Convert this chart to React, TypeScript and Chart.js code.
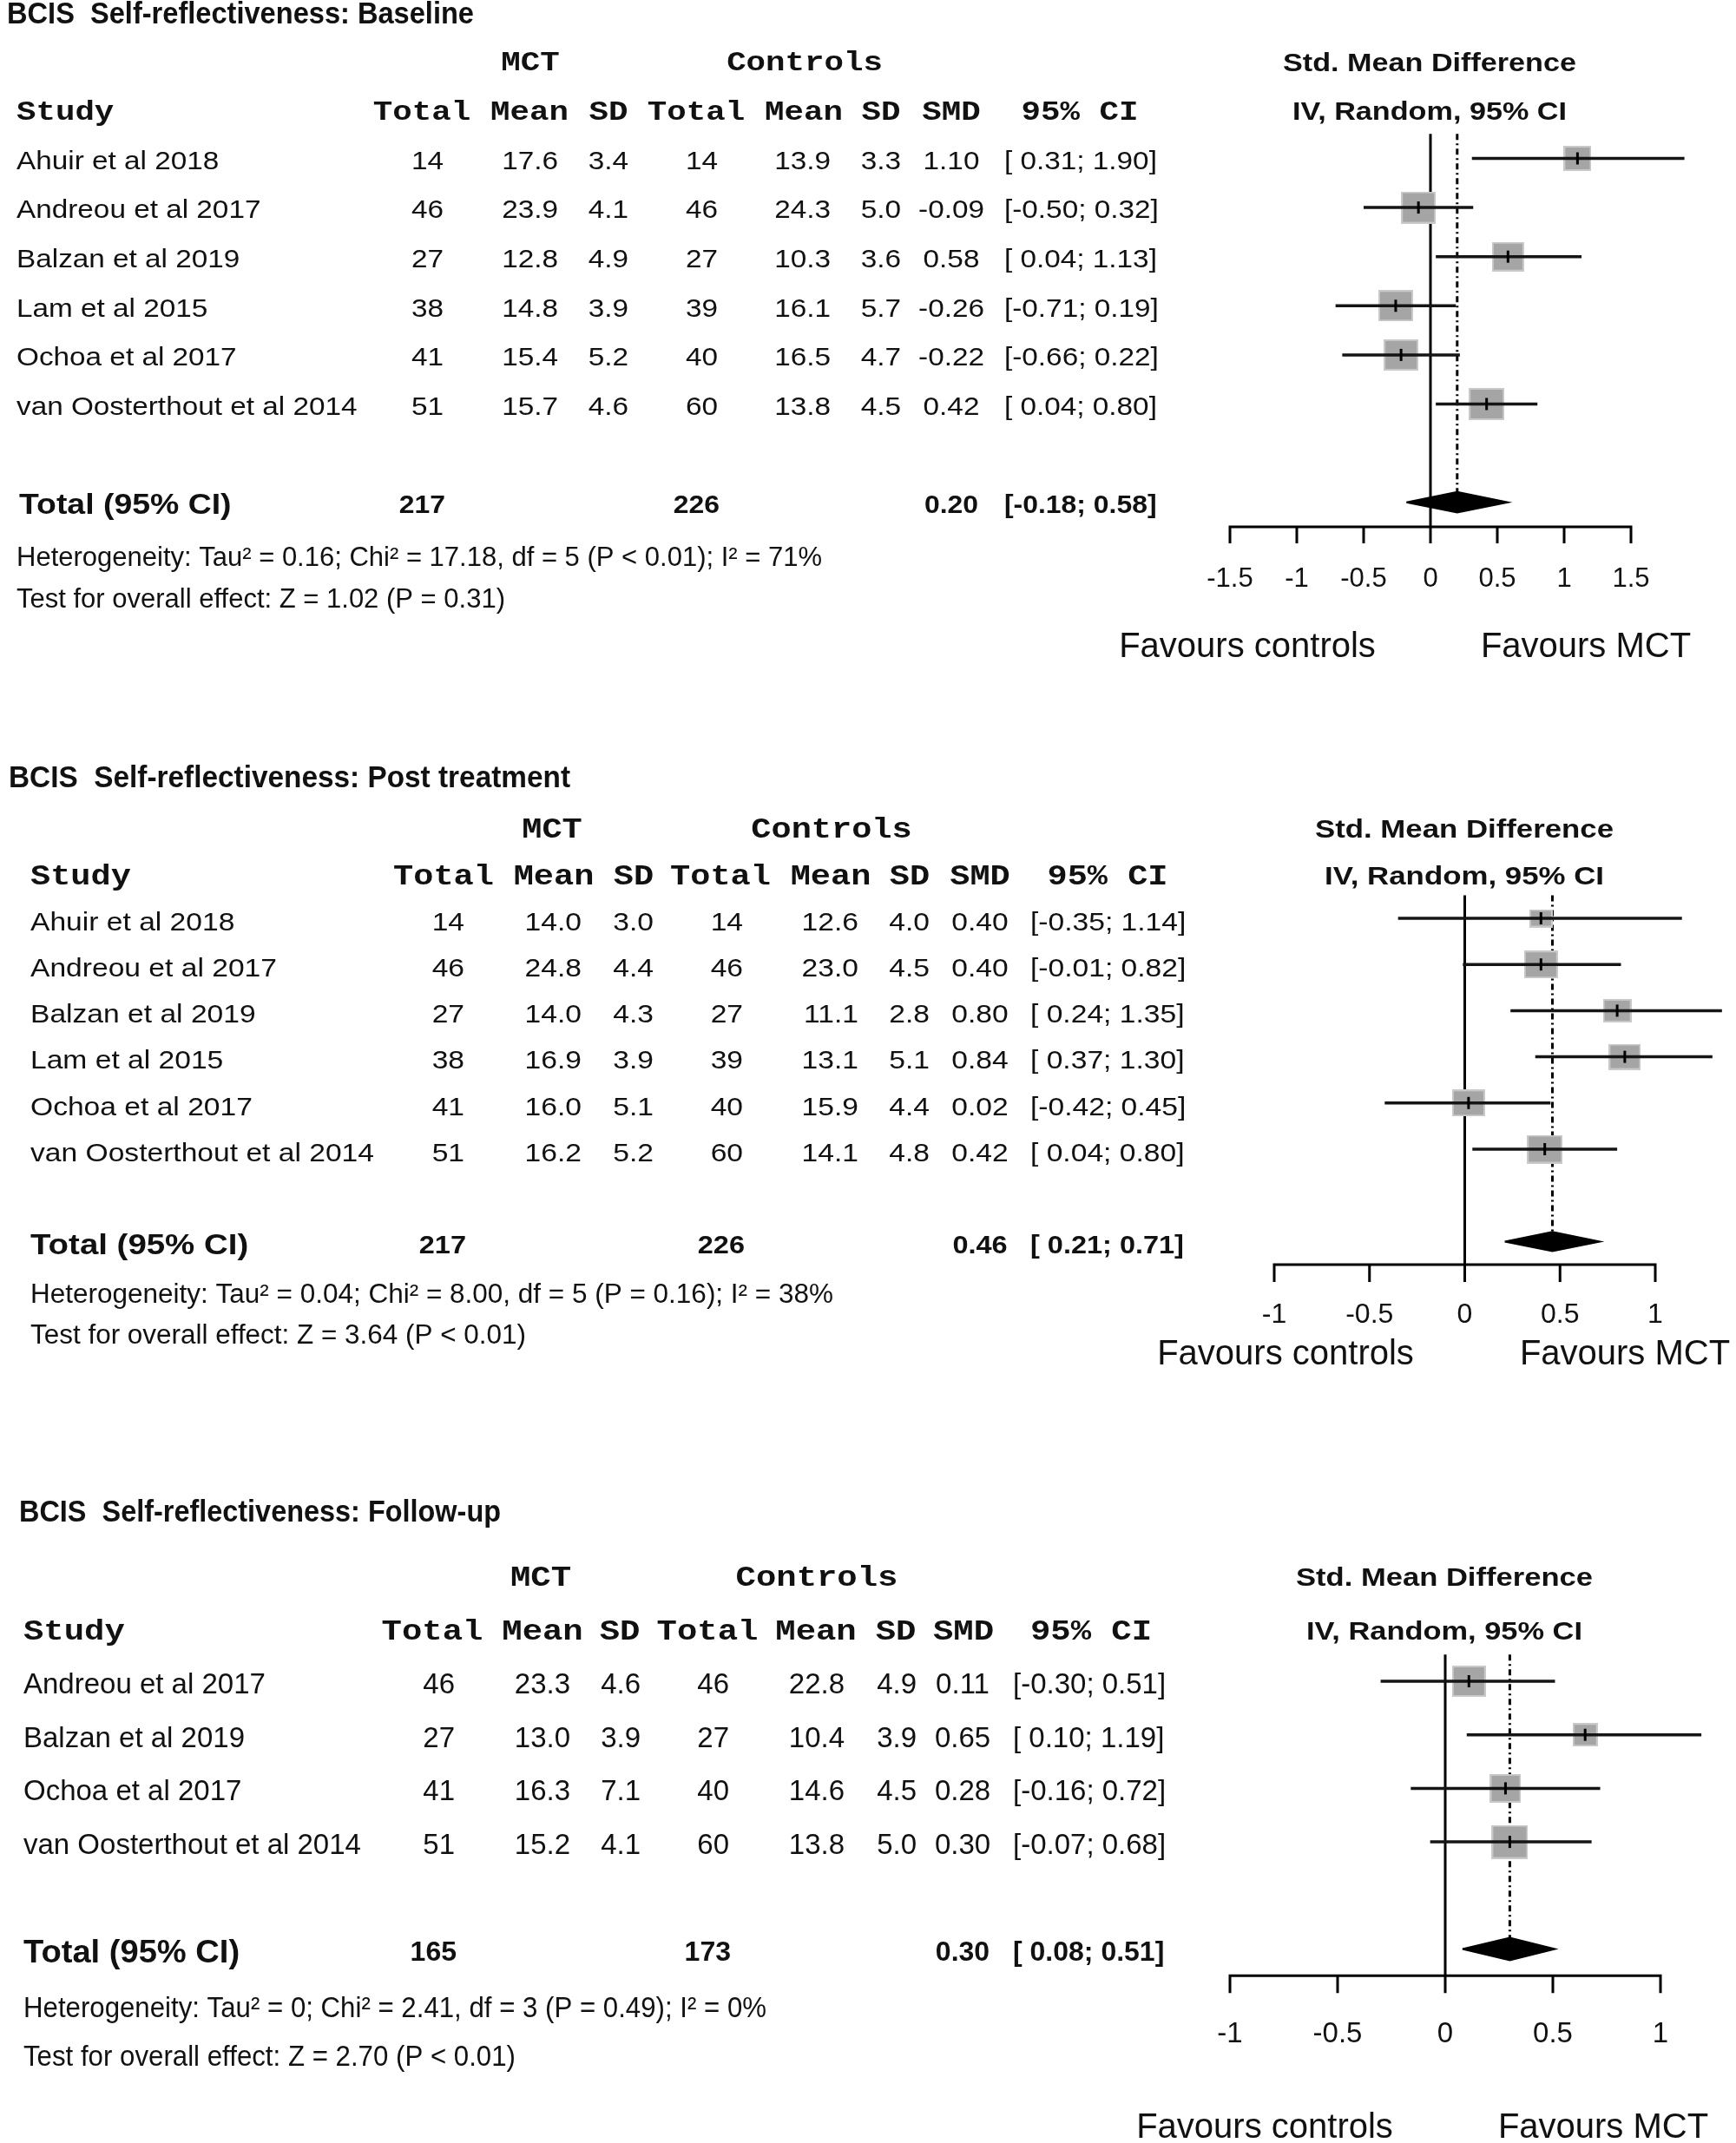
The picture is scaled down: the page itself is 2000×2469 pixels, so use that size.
import React, { useEffect, useRef } from 'react';
import { Chart, registerables } from 'chart.js';

Chart.register(...registerables);

// ---------------- Panel 1: Baseline ----------------
const title1 = 'BCIS  Self-reflectiveness: Baseline';
const studies1 = ['Ahuir et al 2018', 'Andreou et al 2017', 'Balzan et al 2019', 'Lam et al 2015', 'Ochoa et al 2017', 'van Oosterthout et al 2014'];
const mctTotal1 = [14, 46, 27, 38, 41, 51];
const mctMean1 = [17.6, 23.9, 12.8, 14.8, 15.4, 15.7];
const mctSD1 = [3.4, 4.1, 4.9, 3.9, 5.2, 4.6];
const ctlTotal1 = [14, 46, 27, 39, 40, 60];
const ctlMean1 = [13.9, 24.3, 10.3, 16.1, 16.5, 13.8];
const ctlSD1 = [3.3, 5.0, 3.6, 5.7, 4.7, 4.5];
const smd1 = [1.10, -0.09, 0.58, -0.26, -0.22, 0.42];
const lo1 = [0.31, -0.50, 0.04, -0.71, -0.66, 0.04];
const hi1 = [1.90, 0.32, 1.13, 0.19, 0.22, 0.80];
const weight1 = [11.5, 18.4, 15.8, 17.6, 17.8, 18.9];
const total1 = { mct: 217, ctl: 226, smd: 0.20, lo: -0.18, hi: 0.58 };
const het1 = 'Heterogeneity: Tau² = 0.16; Chi² = 17.18, df = 5 (P < 0.01); I² = 71%';
const test1 = 'Test for overall effect: Z = 1.02 (P = 0.31)';
const ticks1 = [-1.5, -1, -0.5, 0, 0.5, 1, 1.5];
const tickLabels1 = ['-1.5', '-1', '-0.5', '0', '0.5', '1', '1.5'];

// ---------------- Panel 2: Post treatment ----------------
const title2 = 'BCIS  Self-reflectiveness: Post treatment';
const studies2 = ['Ahuir et al 2018', 'Andreou et al 2017', 'Balzan et al 2019', 'Lam et al 2015', 'Ochoa et al 2017', 'van Oosterthout et al 2014'];
const mctTotal2 = [14, 46, 27, 38, 41, 51];
const mctMean2 = [14.0, 24.8, 14.0, 16.9, 16.0, 16.2];
const mctSD2 = [3.0, 4.4, 4.3, 3.9, 5.1, 5.2];
const ctlTotal2 = [14, 46, 27, 39, 40, 60];
const ctlMean2 = [12.6, 23.0, 11.1, 13.1, 15.9, 14.1];
const ctlSD2 = [4.0, 4.5, 2.8, 5.1, 4.4, 4.8];
const smd2 = [0.40, 0.40, 0.80, 0.84, 0.02, 0.42];
const lo2 = [-0.35, -0.01, 0.24, 0.37, -0.42, 0.04];
const hi2 = [1.14, 0.82, 1.35, 1.30, 0.45, 0.80];
const weight2 = [9.0, 19.6, 13.9, 17.3, 18.7, 21.5];
const total2 = { mct: 217, ctl: 226, smd: 0.46, lo: 0.21, hi: 0.71 };
const het2 = 'Heterogeneity: Tau² = 0.04; Chi² = 8.00, df = 5 (P = 0.16); I² = 38%';
const test2 = 'Test for overall effect: Z = 3.64 (P < 0.01)';
const ticks2 = [-1, -0.5, 0, 0.5, 1];
const tickLabels2 = ['-1', '-0.5', '0', '0.5', '1'];

// ---------------- Panel 3: Follow-up ----------------
const title3 = 'BCIS  Self-reflectiveness: Follow-up';
const studies3 = ['Andreou et al 2017', 'Balzan et al 2019', 'Ochoa et al 2017', 'van Oosterthout et al 2014'];
const mctTotal3 = [46, 27, 41, 51];
const mctMean3 = [23.3, 13.0, 16.3, 15.2];
const mctSD3 = [4.6, 3.9, 7.1, 4.1];
const ctlTotal3 = [46, 27, 40, 60];
const ctlMean3 = [22.8, 10.4, 14.6, 13.8];
const ctlSD3 = [4.9, 3.9, 4.5, 5.0];
const smd3 = [0.11, 0.65, 0.28, 0.30];
const lo3 = [-0.30, 0.10, -0.16, -0.07];
const hi3 = [0.51, 1.19, 0.72, 0.68];
const weight3 = [28.0, 15.5, 23.8, 32.7];
const total3 = { mct: 165, ctl: 173, smd: 0.30, lo: 0.08, hi: 0.51 };
const het3 = 'Heterogeneity: Tau² = 0; Chi² = 2.41, df = 3 (P = 0.49); I² = 0%';
const test3 = 'Test for overall effect: Z = 2.70 (P < 0.01)';
const ticks3 = [-1, -0.5, 0, 0.5, 1];
const tickLabels3 = ['-1', '-0.5', '0', '0.5', '1'];

// shared labels
const colHeaders = ['Total', 'Mean', 'SD', 'Total', 'Mean', 'SD', 'SMD', '95% CI'];
const groupLabels = ['MCT', 'Controls'];
const favourLabels = ['Favours controls', 'Favours MCT'];

const SANS = "'Liberation Sans', Arial, Helvetica, sans-serif";
const MONO = "'Liberation Mono', 'Courier New', monospace";
const INK = '#111111';

type PanelDef = {
  title: string; studies: string[];
  mctTotal: number[]; mctMean: number[]; mctSD: number[];
  ctlTotal: number[]; ctlMean: number[]; ctlSD: number[];
  smd: number[]; lo: number[]; hi: number[]; weight: number[];
  total: { mct: number; ctl: number; smd: number; lo: number; hi: number };
  het: string; test: string; ticks: number[]; tickLabels: string[];
};

const def1: PanelDef = { title: title1, studies: studies1, mctTotal: mctTotal1, mctMean: mctMean1, mctSD: mctSD1, ctlTotal: ctlTotal1, ctlMean: ctlMean1, ctlSD: ctlSD1, smd: smd1, lo: lo1, hi: hi1, weight: weight1, total: total1, het: het1, test: test1, ticks: ticks1, tickLabels: tickLabels1 };
const def2: PanelDef = { title: title2, studies: studies2, mctTotal: mctTotal2, mctMean: mctMean2, mctSD: mctSD2, ctlTotal: ctlTotal2, ctlMean: ctlMean2, ctlSD: ctlSD2, smd: smd2, lo: lo2, hi: hi2, weight: weight2, total: total2, het: het2, test: test2, ticks: ticks2, tickLabels: tickLabels2 };
const def3: PanelDef = { title: title3, studies: studies3, mctTotal: mctTotal3, mctMean: mctMean3, mctSD: mctSD3, ctlTotal: ctlTotal3, ctlMean: ctlMean3, ctlSD: ctlSD3, smd: smd3, lo: lo3, hi: hi3, weight: weight3, total: total3, het: het3, test: test3, ticks: ticks3, tickLabels: tickLabels3 };

type Layout = any;
const R = 'right', C = 'center', Lf = 'left';

const layout1: Layout = {
  top: 0, H: 800, row1: 182.5, sp: 56.6, xLeft: 1417, xRight: 1879, txtOff: 4,
  studyX: 19, hc: [486, 610, 701, 802, 926, 1015, 1096, 1244], vx: [511, 643, 724, 827, 957, 1038, 1096, 1157], al: [R, R, R, R, R, R, C, Lf],
  mctHc: 611, ctlHc: 927, forestHc: 1647, smdW: 338, ivW: 316,
  titleX: 8, titleY: 17, titleW: 538, titleFs: 35, infoX: 19, hetY: 643, testY: 691, hetW: 928, testW: 563, infoFs: 31,
  tickLen: 19, tickLabOff: 60, tickFs: 31, favY: 746, favL: 1437, favR: 1827, favFs: 40,
  fs: 30, sx: 1.11, boldFs: 29, boldSx: 1.1, labelX: 22, labelFs: 34, labelSx: 1.1, monoFs: 32, monoSx: 1.17,
  boxKx: 9.43, boxKy: 8.51,
};
const layout2: Layout = {
  top: 850, H: 760, row1: 1058, sp: 53.2, xLeft: 1468, xRight: 1907, txtOff: 5.5,
  studyX: 35, hc: [511, 638, 730, 830, 957, 1048, 1129, 1276], vx: [535, 670, 753, 856, 989, 1071, 1129, 1187], al: [R, R, R, R, R, R, C, Lf],
  mctHc: 636, ctlHc: 958, forestHc: 1687, smdW: 344, ivW: 322,
  titleX: 10, titleY: 897, titleW: 647, titleFs: 35, infoX: 35, hetY: 1492, testY: 1539, hetW: 925, testW: 571, infoFs: 31,
  tickLen: 20, tickLabOff: 58, tickFs: 32, favY: 1561, favL: 1481, favR: 1872, favFs: 40,
  fs: 30, sx: 1.12, boldFs: 29, boldSx: 1.12, labelX: 35, labelFs: 34, labelSx: 1.13, monoFs: 33, monoSx: 1.17,
  boxKx: 8.84, boxKy: 7.12,
};
const layout3: Layout = {
  top: 1700, H: 769, row1: 1937, sp: 61.7, xLeft: 1417, xRight: 1913, txtOff: 5,
  studyX: 27, hc: [498, 625, 714, 815, 940, 1032, 1110, 1257], vx: [524, 657, 738, 840, 973, 1056, 1109, 1167], al: [R, R, R, R, R, R, C, Lf],
  mctHc: 623, ctlHc: 941, forestHc: 1664, smdW: 342, ivW: 318,
  titleX: 22, titleY: 1743, titleW: 555, titleFs: 35, infoX: 27, hetY: 2315, testY: 2371, hetW: 856, testW: 567, infoFs: 33,
  tickLen: 20, tickLabOff: 68, tickFs: 33, favY: 2452, favL: 1457, favR: 1847, favFs: 40,
  fs: 33, sx: 1.0, boldFs: 32, boldSx: 1.0, labelX: 27, labelFs: 37, labelSx: 1.03, monoFs: 33, monoSx: 1.18,
  boxKx: 7.35, boxKy: 6.82,
};

function txt(ctx: CanvasRenderingContext2D, s: string, x: number, y: number, font: string, align: CanvasTextAlign = 'left', sx = 1, color = INK) {
  ctx.save();
  ctx.font = font;
  ctx.fillStyle = color;
  ctx.textBaseline = 'middle';
  ctx.textAlign = align;
  ctx.translate(x, y);
  ctx.scale(sx, 1);
  ctx.fillText(s, 0, 0);
  ctx.restore();
}
function txtFit(ctx: CanvasRenderingContext2D, s: string, x: number, y: number, font: string, width: number, align: CanvasTextAlign = 'left') {
  ctx.save();
  ctx.font = font;
  const w = ctx.measureText(s).width;
  ctx.restore();
  txt(ctx, s, x, y, font, align, width / w);
}
const f1 = (v: number) => v.toFixed(1);
const fCI = (lo: number, hi: number) => '[' + (lo < 0 ? '' : ' ') + lo.toFixed(2) + '; ' + hi.toFixed(2) + ']';

function boxImage(w: number, h: number) {
  const c = document.createElement('canvas');
  c.width = Math.max(4, Math.round(w));
  c.height = Math.max(4, Math.round(h));
  const g = c.getContext('2d')!;
  g.fillStyle = '#c9c9c9';
  g.fillRect(0, 0, c.width, c.height);
  g.fillStyle = '#a5a5a5';
  g.fillRect(2, 2, c.width - 4, c.height - 4);
  return c;
}

function buildConfig(d: PanelDef, L: Layout): any {
  const n = d.studies.length;
  const T = n + 2; // total row index
  const yMin = -2;
  const yMax = T + 2.5;
  const padTop = L.row1 + (yMin - 1) * L.sp - L.top;
  const padBottom = L.H - (L.row1 + (yMax - 1) * L.sp - L.top);
  const xMin = d.ticks[0];
  const xMax = d.ticks[d.ticks.length - 1];
  const boxes = d.weight.map((w) => boxImage(L.boxKx * Math.sqrt(w), L.boxKy * Math.sqrt(w)));
  const pts = d.smd.map((v, i) => ({ x: v, y: i + 1 }));

  const datasets: any[] = [];
  datasets.push({
    label: 'estimate', data: pts, showLine: false, pointStyle: 'line', pointRotation: 90,
    pointRadius: 7, pointBorderWidth: 3, pointBorderColor: '#000', pointBackgroundColor: '#000', order: 0, clip: false,
  });
  d.lo.forEach((lo, i) => {
    datasets.push({
      label: 'ci ' + d.studies[i], data: [{ x: lo, y: i + 1 }, { x: d.hi[i], y: i + 1 }],
      borderColor: '#151515', borderWidth: 3.5, pointRadius: 0, fill: false, order: 1, clip: false,
    });
  });
  datasets.push({
    label: 'weight', data: pts, showLine: false,
    pointStyle: (c: any) => boxes[c.dataIndex ?? 0] || boxes[0],
    pointRadius: 10, order: 2, clip: false,
  });
  const t = d.total;
  datasets.push({
    label: 'pooled', data: [{ x: t.lo, y: T }, { x: t.smd, y: T - 0.21 }, { x: t.hi, y: T }, { x: t.smd, y: T + 0.21 }, { x: t.lo, y: T }],
    borderColor: '#000', borderWidth: 2, backgroundColor: '#000', fill: 'shape', pointRadius: 0, tension: 0, order: 3, clip: false,
  });
  datasets.push({
    label: 'pooled line', data: [{ x: t.smd, y: 0.5 }, { x: t.smd, y: T - 0.2 }],
    borderColor: '#000', borderWidth: 3, borderDash: [7, 4, 2, 4], pointRadius: 0, fill: false, order: 4, clip: false,
  });
  datasets.push({
    label: 'no effect', data: [{ x: 0, y: 0.5 }, { x: 0, y: T + 0.5 }],
    borderColor: '#000', borderWidth: 3, pointRadius: 0, fill: false, order: 5, clip: false,
  });

  const plugin = {
    id: 'forestTable',
    afterDraw(chart: any) {
      const ctx: CanvasRenderingContext2D = chart.ctx;
      const xs = chart.scales.x;
      const ys = chart.scales.y;
      const rowY = (r: number) => ys.getPixelForValue(r) + L.txtOff;
      const abs = (y: number) => y - L.top;
      const reg = `${L.fs}px ${SANS}`;
      const mono = `bold ${L.monoFs}px ${MONO}`;
      const bold = `bold ${L.boldFs}px ${SANS}`;

      txtFit(ctx, d.title, L.titleX, abs(L.titleY), `bold ${L.titleFs}px ${SANS}`, L.titleW);

      txt(ctx, groupLabels[0], L.mctHc, rowY(-1), mono, 'center', L.monoSx);
      txt(ctx, groupLabels[1], L.ctlHc, rowY(-1), mono, 'center', L.monoSx);
      txt(ctx, 'Study', L.studyX, rowY(0), mono, 'left', L.monoSx);
      colHeaders.forEach((h, j) => txt(ctx, h, L.hc[j], rowY(0), mono, 'center', L.monoSx));

      d.studies.forEach((s, i) => {
        const y = rowY(i + 1);
        txt(ctx, s, L.studyX, y, reg, 'left', L.sx);
        const cells = [String(d.mctTotal[i]), f1(d.mctMean[i]), f1(d.mctSD[i]), String(d.ctlTotal[i]), f1(d.ctlMean[i]), f1(d.ctlSD[i]), d.smd[i].toFixed(2), fCI(d.lo[i], d.hi[i])];
        cells.forEach((c, j) => txt(ctx, c, L.vx[j], y, reg, L.al[j], L.sx));
      });

      const ty = rowY(T);
      txt(ctx, 'Total (95% CI)', L.labelX, ty, `bold ${L.labelFs}px ${SANS}`, 'left', L.labelSx);
      txt(ctx, String(t.mct), L.vx[0] + 2, ty, bold, 'right', L.boldSx);
      txt(ctx, String(t.ctl), L.vx[3] + 2, ty, bold, 'right', L.boldSx);
      txt(ctx, t.smd.toFixed(2), L.vx[6], ty, bold, 'center', L.boldSx);
      txt(ctx, fCI(t.lo, t.hi), L.vx[7], ty, bold, 'left', L.boldSx);

      txtFit(ctx, d.het, L.infoX, abs(L.hetY), `${L.infoFs}px ${SANS}`, L.hetW);
      txtFit(ctx, d.test, L.infoX, abs(L.testY), `${L.infoFs}px ${SANS}`, L.testW);

      txtFit(ctx, 'Std. Mean Difference', L.forestHc, rowY(-1), `bold 30px ${SANS}`, L.smdW, 'center');
      txtFit(ctx, 'IV, Random, 95% CI', L.forestHc, rowY(0), `bold 30px ${SANS}`, L.ivW, 'center');

      // x axis drawn with the chart's own x scale
      const ay = ys.getPixelForValue(T + 0.5);
      const xa = xs.getPixelForValue(d.ticks[0]);
      const xb = xs.getPixelForValue(d.ticks[d.ticks.length - 1]);
      ctx.save();
      ctx.strokeStyle = '#000';
      ctx.lineWidth = 3;
      ctx.beginPath();
      ctx.moveTo(xa - 1.5, ay);
      ctx.lineTo(xb + 1.5, ay);
      d.ticks.forEach((v) => {
        const px = xs.getPixelForValue(v);
        ctx.moveTo(px, ay);
        ctx.lineTo(px, ay + L.tickLen);
      });
      ctx.stroke();
      ctx.restore();
      d.ticks.forEach((v, k) => {
        txt(ctx, d.tickLabels[k], xs.getPixelForValue(v), ay + L.tickLabOff, `${L.tickFs}px ${SANS}`, 'center', 1);
      });

      txt(ctx, favourLabels[0], L.favL, abs(L.favY), `${L.favFs}px ${SANS}`, 'center', 1);
      txt(ctx, favourLabels[1], L.favR, abs(L.favY), `${L.favFs}px ${SANS}`, 'center', 1);
    },
  };

  return {
    type: 'line',
    data: { datasets },
    options: {
      animation: false,
      responsive: false,
      maintainAspectRatio: false,
      events: [],
      layout: { padding: { left: L.xLeft, right: 2000 - L.xRight, top: padTop, bottom: padBottom } },
      plugins: { legend: { display: false }, tooltip: { enabled: false }, title: { display: false } },
      scales: {
        x: { type: 'linear', min: xMin, max: xMax, display: false },
        y: { type: 'linear', min: yMin, max: yMax, reverse: true, display: false },
      },
    },
    plugins: [plugin],
  };
}

function ForestPanel({ def, L }: { def: PanelDef; L: Layout }) {
  const ref = useRef<HTMLCanvasElement>(null);
  useEffect(() => {
    const canvas = ref.current;
    if (!canvas) return;
    const chart = new Chart(canvas, buildConfig(def, L));
    return () => chart.destroy();
  }, [def, L]);
  return (
    <canvas
      ref={ref}
      width={2000}
      height={L.H}
      style={{ position: 'absolute', left: 0, top: L.top, width: 2000, height: L.H, display: 'block' }}
    />
  );
}

export default function App() {
  return (
    <div style={{ position: 'absolute', left: 0, top: 0, width: 2000, height: 2469, background: '#ffffff', overflow: 'hidden' }}>
      <ForestPanel def={def1} L={layout1} />
      <ForestPanel def={def2} L={layout2} />
      <ForestPanel def={def3} L={layout3} />
    </div>
  );
}
